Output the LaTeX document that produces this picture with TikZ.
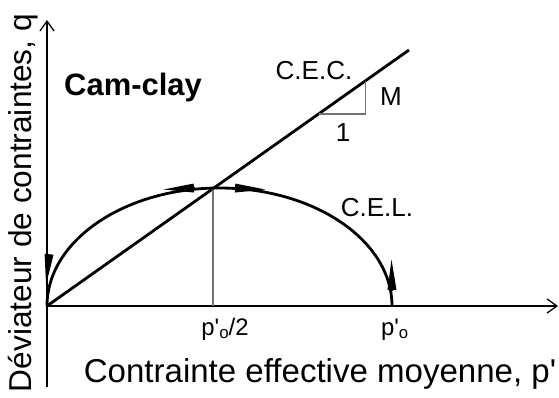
\documentclass[tikz,border=0pt]{standalone}
\usepackage{fontspec}
\setmainfont{Liberation Sans}
\usetikzlibrary{arrows.meta,calc}
\newcommand{\pr}{\textquotesingle}

\begin{document}
\begin{tikzpicture}[x=0.025cm,y=0.025cm,
  axis/.style={line width=0.9pt,-{Straight Barb[length=7pt,width=10pt]}},
  heavy/.style={line width=2pt},
  sense/.style={line width=1.4pt,-{Triangle[length=22pt,width=6pt]}},
  guide/.style={draw=black!55,line width=0.8pt},
  lab/.style={font=\fontsize{18.5}{22}\selectfont,inner sep=0pt},
  tick/.style={font=\fontsize{17}{20}\selectfont,inner sep=0pt,anchor=base},
  axlab/.style={font=\fontsize{23.5}{27}\selectfont,inner sep=0pt,anchor=base}]
\useasboundingbox (0,0) rectangle (559,397);
% axes
\coordinate (O) at (47,91);
\coordinate (ytop) at (47,377);
\coordinate (ybot) at (47,10);
\coordinate (xend) at (558,91);
\draw[axis] (ybot) -- (ytop);
\draw[axis] (O) -- (xend);
% critical state line
\coordinate (cecend) at (409,347);
\draw[heavy] (O) -- (cecend);
\coordinate (peak) at ($(O)!0.4586!(cecend)$);
\draw[guide] (peak) -- (peak |- O);
% slope M
\coordinate (m1) at ($(O)!0.75!(cecend)$);
\coordinate (m2) at ($(O)!0.88!(cecend)$);
\draw[guide] (m1) -| (m2);
\node[lab] (slopeM) at (391,300) {M};
\node[lab] (slope1) at (343,264) {1};
% yield surface
\draw[heavy] (O) arc[start angle=180,end angle=0,x radius=172.5,y radius=118];
% sense of the flow on it
\coordinate (a1) at (49,142);   \coordinate (b1) at (46,112);
\coordinate (a2) at (195,209);  \coordinate (b2) at (163,207.5);
\coordinate (a3) at (234,209);  \coordinate (b3) at (266,207.5);
\coordinate (a4) at (392,106);  \coordinate (b4) at (391.5,138);
\foreach \i in {1,...,4}
  \draw[sense] (a\i) -- (b\i);
% labels
\node[font=\fontsize{22}{26}\selectfont\bfseries,inner sep=0pt] (title) at (133,309) {Cam-clay};
\node[lab] (cec) at (314,326.5) {C.E.C.};
\node[lab] (cel) at (377,189) {C.E.L.};
\node[tick] (phalf) at (225,62)
  {p\pr\raisebox{-0.3ex}{\fontsize{12}{12}\selectfont o}/2};
\node[tick] (pzero) at (395,62) {p\pr$_{\mathrm{o}}$};
\node[axlab] (xlab) at (320,15) {Contrainte effective moyenne, p\pr};
\node[axlab,rotate=90,font=\fontsize{22.5}{27}\selectfont] (ylab) at (32,194) {Déviateur de contraintes, q};
\end{tikzpicture}
\end{document}
